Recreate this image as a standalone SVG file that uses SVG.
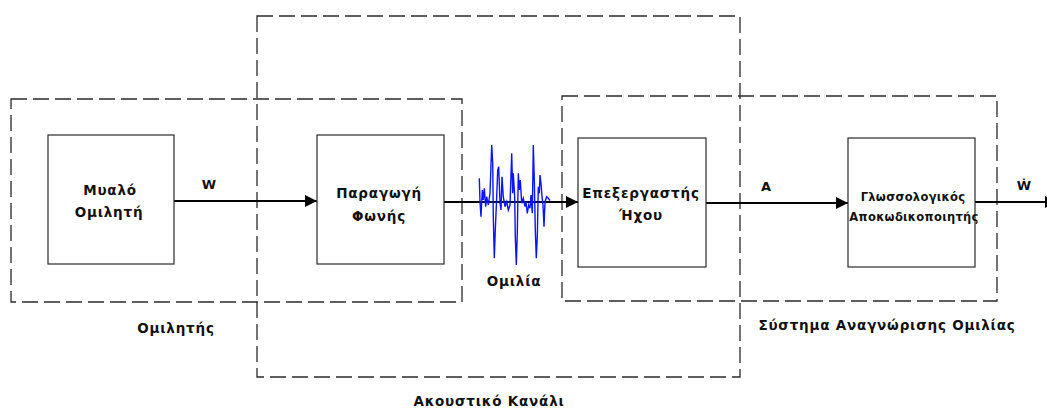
<svg xmlns="http://www.w3.org/2000/svg" width="1047" height="410" viewBox="0 0 1047 410">
<style>
.bg{fill:#ffffff}
.grp{fill:none;stroke:#2a2a2a;stroke-width:1.3;stroke-dasharray:16 6}
.box{fill:#ffffff;stroke:#2a2a2a;stroke-width:1.2}
.con{fill:none;stroke:#000;stroke-width:2.2}
.wave{fill:none;stroke:#0a14ff;stroke-width:1.4;stroke-linejoin:miter}
.t{font-family:"DejaVu Sans","Noto Sans",sans-serif;font-weight:bold;font-size:13.5px;fill:#111;text-anchor:middle;letter-spacing:0.8px}
.ts{font-family:"DejaVu Sans","Noto Sans",sans-serif;font-weight:bold;font-size:11.5px;fill:#111;text-anchor:middle;letter-spacing:0.3px}
.lb{font-family:"DejaVu Sans","Noto Sans",sans-serif;font-weight:bold;font-size:13px;fill:#111;text-anchor:middle}
</style>
<defs>
<marker id="ah" markerUnits="userSpaceOnUse" markerWidth="13" markerHeight="13" refX="12" refY="6" orient="auto">
<path d="M0,0 L12,6 L0,12 z" fill="#000"/>
</marker>
</defs>
<rect class="bg" x="0" y="0" width="1047" height="410"/>

<g id="groups">
<rect id="g-speaker" class="grp" x="11" y="99" width="451" height="203"/>
<rect id="g-channel" class="grp" x="257" y="16" width="483" height="361"/>
<rect id="g-asr" class="grp" x="562" y="96" width="435" height="205"/>
<text class="t" x="176" y="333">Ομιλητής</text>
<text class="t" x="489" y="406">Ακουστικό Κανάλι</text>
<text class="t" x="887" y="330">Σύστημα Αναγνώρισης Ομιλίας</text>
</g>

<g id="connectors">
<line class="con" x1="174" y1="201" x2="317" y2="201" marker-end="url(#ah)"/>
<line class="con" x1="444" y1="202" x2="578" y2="202" marker-end="url(#ah)"/>
<line class="con" x1="706" y1="203" x2="848" y2="203" marker-end="url(#ah)"/>
<line class="con" x1="975" y1="202" x2="1057" y2="202" marker-end="url(#ah)"/>
<text class="lb" x="209" y="189">W</text>
<text class="lb" x="766" y="191">A</text>
<text class="lb" x="1024" y="190">Ẇ</text>
</g>

<g id="speech-wave">
<polyline class="wave" points="479.3,178.3 480,201.7 481,216.7 482.3,190 483.3,200 484.3,188.3 485.7,206.7 486.7,196.7 488.3,205 490,193.3 491.7,145 492.7,163.3 493.3,216.7 494.3,258.3 495.3,230 496.7,196.7 497.7,170 498.7,166.7 500,203.3 501,210 502,176.7 503.3,196.7 505,206.7 506.7,201.7 508.3,210 510,205 511.7,153.3 512.7,193.3 513.3,173.3 514.7,196.7 515.3,236.7 516.3,265 517.3,233.3 518.3,173.3 519.3,190 520.3,180 521.7,203.3 523.3,198.3 525,206.7 526,201.7 527.3,213.3 528.7,205 530,208.3 531,195 532.3,213.3 533.3,145 534.3,180 535.3,230 536.3,258.3 537.3,236.7 538.3,186.7 539.3,193.3 540,175 541,183.3 542,196.7 543,205 544,226.7 545,201.7 546.7,196.7 548.3,198.3 550,200.7"/>
<text class="t" x="514" y="286">Ομιλία</text>
</g>

<g id="brain">
<rect class="box" x="48" y="135" width="126" height="129"/>
<text class="t" x="110" y="195">Μυαλό</text>
<text class="t" x="109" y="217">Ομιλητή</text>
</g>

<g id="voice-production">
<rect class="box" x="317" y="135" width="127" height="129"/>
<text class="t" x="379" y="198">Παραγωγή</text>
<text class="t" x="379" y="221">Φωνής</text>
</g>

<g id="sound-processor">
<rect class="box" x="578" y="138" width="128" height="129"/>
<text class="t" x="641" y="198">Επεξεργαστής</text>
<text class="t" x="641" y="220">Ήχου</text>
</g>

<g id="linguistic-decoder">
<rect class="box" x="848" y="138" width="127" height="129"/>
<text class="ts" x="913" y="201">Γλωσσολογικός</text>
<text class="ts" x="914" y="221">Αποκωδικοποιητής</text>
</g>
</svg>
